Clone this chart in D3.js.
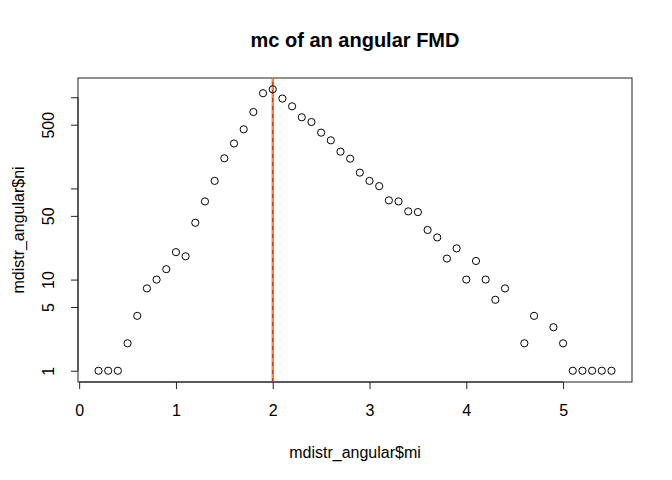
<!DOCTYPE html>
<html>
<head>
<meta charset="utf-8">
<script src="https://cdn.jsdelivr.net/npm/d3@7"></script>
<style>
  body { margin: 0; background: #fff; }
  svg { display: block; font-family: "Liberation Sans", Arial, sans-serif; }
</style>
</head>
<body>
<svg id="chart" width="672" height="480"></svg>
<script>
// 数据：mi 与 ni（4.5 和 4.8 无点）
const mi = [0.2, 0.3, 0.4, 0.5, 0.6, 0.7, 0.8, 0.9, 1.0, 1.1, 1.2, 1.3, 1.4, 1.5, 1.6, 1.7, 1.8, 1.9,
  2.0, 2.1, 2.2, 2.3, 2.4, 2.5, 2.6, 2.7, 2.8, 2.9, 3.0, 3.1, 3.2, 3.3, 3.4, 3.5, 3.6, 3.7, 3.8, 3.9,
  4.0, 4.1, 4.2, 4.3, 4.4, 4.6, 4.7, 4.9, 5.0, 5.1, 5.2, 5.3, 5.4, 5.5];
const ni = [1, 1, 1, 2, 4, 8, 10, 13, 20, 18, 42, 72, 121, 214, 311, 445, 689, 1107,
  1224, 968, 796, 603, 535, 409, 337, 253, 212, 149, 121, 106, 74, 72, 56, 55, 35, 29, 17, 22,
  10, 16, 10, 6, 8, 2, 4, 3, 2, 1, 1, 1, 1, 1];
const xTicks = [0, 1, 2, 3, 4, 5];
const yTicks = [1, 5, 10, 50, 100, 500, 1000];
const yLabels = ["1", "5", "10", "50", "", "500", ""];
const mc = 2.0;

const svg = d3.select("#chart");
const box = { left: 78, right: 632, top: 78, bottom: 382 };

// R 风格的 4% 扩展
const xr = d3.extent(mi), xe = (xr[1] - xr[0]) * 0.04;
const x = d3.scaleLinear().domain([xr[0] - xe, xr[1] + xe]).range([box.left, box.right]);
const lr = d3.extent(ni).map(Math.log10), le = (lr[1] - lr[0]) * 0.04;
const y = d3.scaleLog().domain([Math.pow(10, lr[0] - le), Math.pow(10, lr[1] + le)]).range([box.bottom, box.top]);

// 边框
svg.append("rect")
  .attr("x", box.left).attr("y", box.top)
  .attr("width", box.right - box.left).attr("height", box.bottom - box.top)
  .attr("fill", "none").attr("stroke", "#222").attr("stroke-width", 1);

// x 轴
const xAxis = svg.append("g").attr("transform", `translate(0,${box.bottom})`)
  .call(d3.axisBottom(x).tickValues(xTicks).tickFormat(d3.format("d")).tickSize(7).tickSizeOuter(0).tickPadding(16));
xAxis.select(".domain").attr("d", `M${x(0)},0H${x(5)}`).attr("stroke", "#222");
xAxis.selectAll("line").attr("stroke", "#222");
xAxis.selectAll("text").attr("font-size", 16).attr("fill", "#000");

// y 轴（标签竖排）
const yAxis = svg.append("g").attr("transform", `translate(${box.left},0)`)
  .call(d3.axisLeft(y).tickValues(yTicks).tickFormat((d, i) => yLabels[i]).tickSize(7).tickSizeOuter(0));
yAxis.select(".domain").attr("d", `M0,${y(1)}V${y(1000)}`).attr("stroke", "#222");
yAxis.selectAll("line").attr("stroke", "#222");
yAxis.selectAll("text")
  .attr("font-size", 16).attr("fill", "#000")
  .attr("x", 0).attr("dy", 0)
  .attr("text-anchor", "middle")
  .attr("transform", "translate(-24,0) rotate(-90)");

// mc 竖线
svg.append("line")
  .attr("x1", x(mc)).attr("x2", x(mc)).attr("y1", box.top).attr("y2", box.bottom)
  .attr("stroke", "#e0302a").attr("stroke-width", 2);
svg.append("line")
  .attr("x1", x(mc)).attr("x2", x(mc)).attr("y1", box.top).attr("y2", box.bottom)
  .attr("stroke", "#f5b041").attr("stroke-width", 1).attr("stroke-dasharray", "4,4");

// 散点
svg.append("g").selectAll("circle")
  .data(mi.map((d, i) => [d, ni[i]]))
  .enter().append("circle")
  .attr("cx", d => x(d[0])).attr("cy", d => y(d[1]))
  .attr("r", 3.6)
  .attr("fill", "none").attr("stroke", "#000").attr("stroke-width", 1);

// 标题与轴标题
svg.append("text").attr("x", (box.left + box.right) / 2).attr("y", 47)
  .attr("text-anchor", "middle").attr("font-size", 20).attr("font-weight", "bold")
  .text("mc of an angular FMD");
svg.append("text").attr("x", (box.left + box.right) / 2).attr("y", 458)
  .attr("text-anchor", "middle").attr("font-size", 16)
  .text("mdistr_angular$mi");
svg.append("text")
  .attr("transform", `translate(24,${(box.top + box.bottom) / 2}) rotate(-90)`)
  .attr("text-anchor", "middle").attr("font-size", 16)
  .text("mdistr_angular$ni");
</script>
</body>
</html>
